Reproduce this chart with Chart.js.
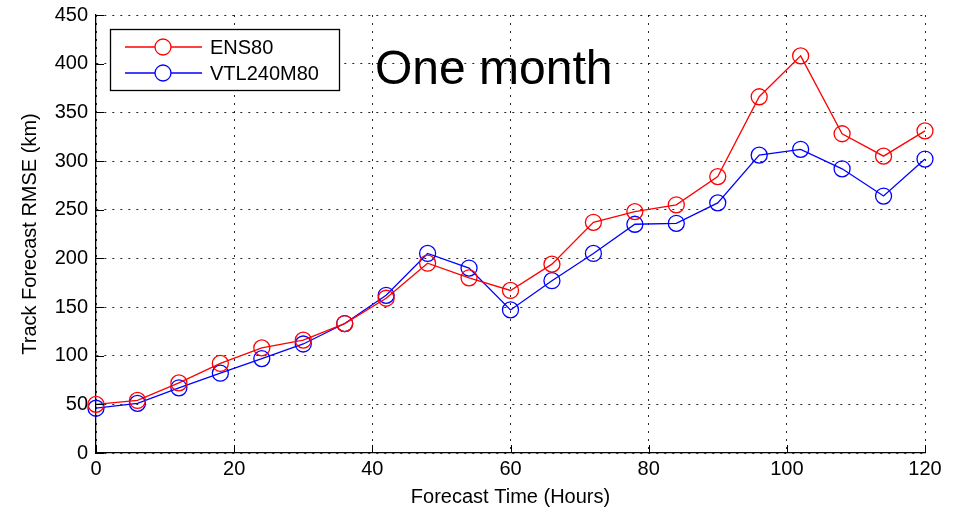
<!DOCTYPE html>
<html>
<head>
<meta charset="utf-8">
<script src="https://cdn.jsdelivr.net/npm/chart.js@4/dist/chart.umd.min.js"></script>
<style>
html,body{margin:0;padding:0;background:#fff;}
#wrap{width:954px;height:512px;}
</style>
</head>
<body>
<div id="wrap"><canvas id="c" width="954" height="512"></canvas></div>
<script>
const hours = [0,6,12,18,24,30,36,42,48,54,60,66,72,78,84,90,96,102,108,114,120];
const ens80 = [50,54,72,92,108,116,133,159,195,180,167,194,237,248,255,284,366,408,328,305,331];
const vtl240m80 = [46,51,67,82,97,112,133,162,205,190,147,177,205,235,236,257,306,312,292,264,302];
const xTicks = [0,20,40,60,80,100,120];
const yTicks = [0,50,100,150,200,250,300,350,400,450];
const seriesNames = ['ENS80','VTL240M80'];
const titleText = 'One month';
const FONT = '"Liberation Sans", Arial, Helvetica, sans-serif';

const pts = arr => hours.map((h,i)=>({x:h,y:arr[i]}));

const extras = {
  id:'extras',
  afterDraw(chart){
    const ctx = chart.ctx;
    const xs = chart.scales.x, ys = chart.scales.y;
    const area = chart.chartArea;
    ctx.save();
    ctx.strokeStyle = '#000'; ctx.lineWidth = 1;
    ctx.beginPath();
    yTicks.forEach(v=>{const p=Math.round(ys.getPixelForValue(v))+0.5; ctx.moveTo(area.left,p); ctx.lineTo(area.left+8,p);});
    xTicks.forEach(v=>{const p=Math.round(xs.getPixelForValue(v))+0.5; ctx.moveTo(p,area.bottom); ctx.lineTo(p,area.bottom-8);});
    ctx.stroke();
    ctx.fillStyle = '#000';
    ctx.font = '48px ' + FONT;
    ctx.textAlign = 'left'; ctx.textBaseline = 'middle';
    ctx.fillText(titleText, 375, 71);
    const bx=110.5, by=29.5, bw=229, bh=61;
    ctx.fillStyle='#fff'; ctx.fillRect(bx,by,bw,bh);
    ctx.strokeStyle='#000'; ctx.lineWidth=1.3; ctx.strokeRect(bx,by,bw,bh);
    const rows=[47,73];
    chart.data.datasets.forEach((ds,i)=>{
      const y=rows[i];
      ctx.strokeStyle=ds.borderColor; ctx.lineWidth=1.3;
      ctx.beginPath(); ctx.moveTo(125,y); ctx.lineTo(202,y); ctx.stroke();
      ctx.beginPath(); ctx.arc(163,y,8,0,Math.PI*2); ctx.fillStyle='#fff'; ctx.fill(); ctx.stroke();
      ctx.fillStyle='#000'; ctx.font='20px '+FONT; ctx.textAlign='left'; ctx.textBaseline='middle';
      ctx.fillText(ds.label,210,y+1);
    });
    ctx.restore();
  }
};

new Chart(document.getElementById('c'),{
  type:'line',
  data:{datasets:[
    {label:seriesNames[0],data:pts(ens80),borderColor:'#ff0000',backgroundColor:'rgba(0,0,0,0)',borderWidth:1.3,pointRadius:8,pointBorderWidth:1.3,pointBackgroundColor:'rgba(0,0,0,0)',pointBorderColor:'#ff0000',tension:0,clip:false},
    {label:seriesNames[1],data:pts(vtl240m80),borderColor:'#0000ff',backgroundColor:'rgba(0,0,0,0)',borderWidth:1.3,pointRadius:8,pointBorderWidth:1.3,pointBackgroundColor:'rgba(0,0,0,0)',pointBorderColor:'#0000ff',tension:0,clip:false}
  ]},
  options:{
    responsive:false,animation:false,
    layout:{padding:{left:0,right:29,top:15,bottom:0}},
    plugins:{legend:{display:false},tooltip:{enabled:false}},
    scales:{
      x:{type:'linear',min:0,max:120,
        afterBuildTicks:s=>{s.ticks=xTicks.map(v=>({value:v}));},
        afterFit:s=>{s.height=59;s.paddingLeft=0;s.paddingRight=0;s.paddingTop=0;s.paddingBottom=0;},
        ticks:{font:{family:FONT,size:20},color:'#000',padding:4,maxRotation:0},
        grid:{color:'rgba(0,0,0,0.85)',lineWidth:1,drawTicks:false},
        border:{display:true,color:'#000',width:1.3,dash:[2,6]},
        title:{display:true,text:'Forecast Time (Hours)',font:{family:FONT,size:20},color:'#000',padding:{top:3,bottom:3}}
      },
      y:{type:'linear',min:0,max:450,
        afterBuildTicks:s=>{s.ticks=yTicks.map(v=>({value:v}));},
        afterFit:s=>{s.width=96;s.paddingTop=0;s.paddingBottom=0;s.paddingLeft=0;s.paddingRight=0;},
        ticks:{font:{family:FONT,size:20},color:'#000',padding:8},
        grid:{color:'rgba(0,0,0,0.85)',lineWidth:1,drawTicks:false},
        border:{display:true,color:'#000',width:1.3,dash:[2,6]},
        title:{display:true,text:'Track Forecast RMSE (km)',font:{family:FONT,size:20},color:'#000',padding:{top:18,bottom:18}}
      }
    }
  },
  plugins:[extras]
});
</script>
</body>
</html>
